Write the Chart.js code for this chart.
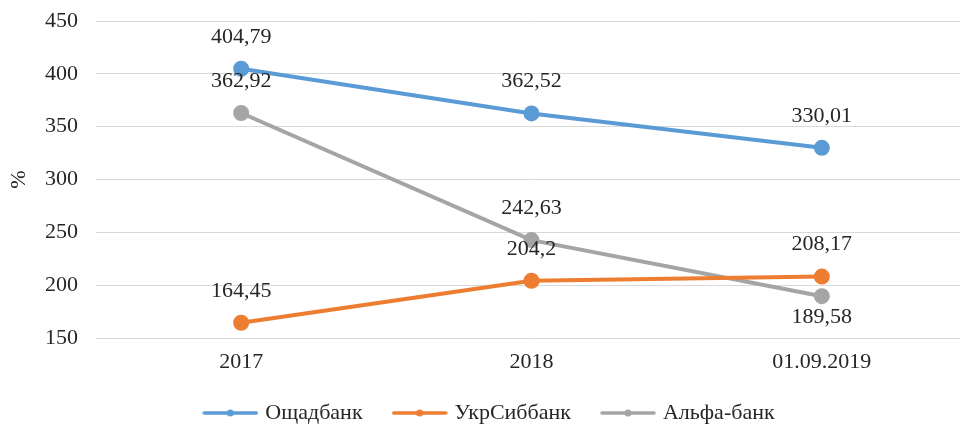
<!DOCTYPE html>
<html>
<head>
<meta charset="utf-8">
<script src="https://cdn.jsdelivr.net/npm/chart.js@4"></script>
<style>
  html, body { margin: 0; padding: 0; background: #fff; overflow: hidden; }
</style>
</head>
<body>
<canvas id="bankChart" width="977" height="429"></canvas>
<script>
const categories = ['2017', '2018', '01.09.2019'];
const oshchadbank = [404.79, 362.52, 330.01];
const ukrsibbank = [164.45, 204.2, 208.17];
const alfabank = [362.92, 242.63, 189.58];
const yTicks = [150, 200, 250, 300, 350, 400, 450];

// where each value label sits relative to its point
const labelSide = [
  ['up', 'up', 'up'],
  ['up', 'up', 'up'],
  ['up', 'up', 'down']
];

const FONT = "'Liberation Serif', 'Times New Roman', serif";
const FS = 22;

function legendIcon(color) {
  const c = document.createElement('canvas');
  c.width = 56; c.height = 10;
  const g = c.getContext('2d');
  g.strokeStyle = color;
  g.lineWidth = 3.5;
  g.lineCap = 'round';
  g.beginPath(); g.moveTo(2, 5); g.lineTo(54, 5); g.stroke();
  g.fillStyle = color;
  g.beginPath(); g.arc(28, 5, 3.5, 0, Math.PI * 2); g.fill();
  return c;
}

const valueLabels = {
  id: 'valueLabels',
  afterLayout(chart) {
    // nudge the legend row a little, like the original
    chart.legend.left += 2;
    chart.legend.right += 2;
  },
  afterDatasetsDraw(chart) {
    const ctx = chart.ctx;
    ctx.save();
    ctx.font = FS + 'px ' + FONT;
    ctx.fillStyle = '#262626';
    ctx.textAlign = 'center';
    ctx.textBaseline = 'middle';
    chart.data.datasets.forEach((ds, i) => {
      chart.getDatasetMeta(i).data.forEach((pt, j) => {
        const txt = String(ds.data[j]).replace('.', ',');
        const dy = labelSide[i][j] === 'down' ? 21 : -32;
        ctx.fillText(txt, pt.x, pt.y + dy);
      });
    });
    ctx.restore();
  }
};

const colors = ['#5B9BD5', '#ED7D31', '#A5A5A5'];

function series(label, data, color) {
  return {
    label: label,
    data: data,
    borderColor: color,
    backgroundColor: color,
    borderWidth: 4,
    pointRadius: 6,
    pointHoverRadius: 6,
    pointBackgroundColor: color,
    pointBorderColor: color,
    pointStyle: 'circle',
    tension: 0
  };
}

new Chart(document.getElementById('bankChart'), {
  type: 'line',
  data: {
    labels: categories,
    datasets: [
      series('Ощадбанк', oshchadbank, colors[0]),
      series('УкрСиббанк', ukrsibbank, colors[1]),
      series('Альфа-банк', alfabank, colors[2])
    ]
  },
  options: {
    responsive: false,
    animation: false,
    layout: { padding: { top: 21, right: 0, left: 0, bottom: 0 } },
    plugins: {
      tooltip: { enabled: false },
      legend: {
        position: 'bottom',
        maxHeight: 60,
        labels: {
          usePointStyle: true,
          pointStyleWidth: 48,
          padding: 33,
          color: '#262626',
          font: { family: FONT, size: FS },
          generateLabels(chart) {
            return chart.data.datasets.map((ds, i) => ({
              text: ds.label,
              pointStyle: legendIcon(colors[i]),
              fillStyle: colors[i],
              strokeStyle: colors[i],
              lineWidth: 0,
              fontColor: '#262626',
              datasetIndex: i,
              hidden: false
            }));
          }
        }
      }
    },
    scales: {
      x: {
        offset: true,
        afterFit(s) { s.height = 31; },
        grid: { display: false },
        border: { display: false },
        ticks: { color: '#262626', font: { family: FONT, size: FS }, padding: 3, maxRotation: 0 }
      },
      y: {
        min: 150,
        max: 450,
        afterFit(s) { s.width = 96; s.paddingTop = 0; s.paddingBottom = 0; },
        afterBuildTicks(s) { s.ticks = yTicks.map(v => ({ value: v })); },
        grid: { color: '#D9D9D9', lineWidth: 1, drawTicks: false },
        border: { display: false },
        ticks: { color: '#262626', font: { family: FONT, size: FS }, padding: 18 },
        title: {
          display: true,
          text: '%',
          color: '#262626',
          font: { family: FONT, size: FS },
          padding: { top: 6, bottom: 0 }
        }
      }
    }
  },
  plugins: [valueLabels]
});
</script>
</body>
</html>
